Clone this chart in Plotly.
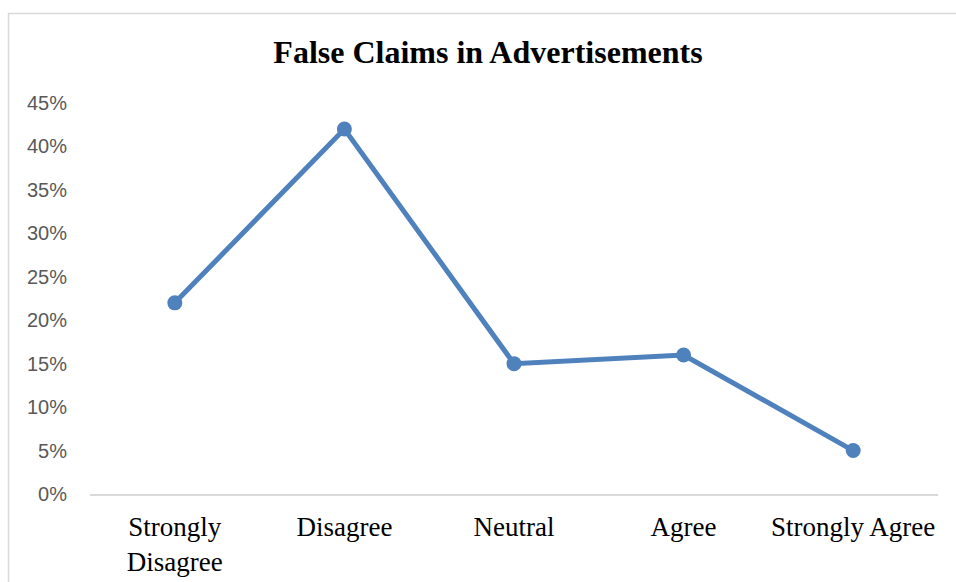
import plotly.graph_objects as go

categories = ["Strongly Disagree", "Disagree", "Neutral", "Agree", "Strongly Agree"]
tick_labels = ["Strongly<br>Disagree", "Disagree", "Neutral", "Agree", "Strongly Agree"]
values = [0.22, 0.42, 0.15, 0.16, 0.05]
y_ticks = [0, 0.05, 0.10, 0.15, 0.20, 0.25, 0.30, 0.35, 0.40, 0.45]
y_tick_labels = ["0%", "5%", "10%", "15%", "20%", "25%", "30%", "35%", "40%", "45%"]

W, H = 956, 582
ml, mr, mt, mb = 90, 18, 103, 88
pw, ph = W - ml - mr, H - mt - mb

fig = go.Figure()
fig.add_trace(go.Scatter(
    x=categories, y=values, mode="lines+markers",
    line=dict(color="#4F81BD", width=5),
    marker=dict(color="#4F81BD", size=15),
    showlegend=False, cliponaxis=False,
))

fig.update_layout(
    width=W, height=H,
    margin=dict(l=ml, r=mr, t=mt, b=mb, autoexpand=False),
    paper_bgcolor="white", plot_bgcolor="white",
    title=dict(text="<b>False Claims in Advertisements</b>",
               font=dict(family="Liberation Serif", size=32, color="black"),
               x=(488 - ml) / pw, xref="paper", xanchor="center",
               y=1 - 52 / H, yref="container", yanchor="middle"),
    xaxis=dict(type="category", categoryorder="array", categoryarray=categories,
               tickvals=categories, ticktext=tick_labels,
               range=[-0.5, 4.5], showgrid=False, zeroline=False,
               showline=True, linecolor="#d9d9d9", linewidth=1.5,
               ticks="", ticklabelstandoff=8, automargin=False,
               tickfont=dict(family="Liberation Serif", size=27, color="black")),
    yaxis=dict(range=[0, 0.45], tickvals=y_ticks, ticktext=y_tick_labels,
               showgrid=False, zeroline=False, showline=False, ticks="",
               ticklabelstandoff=22, automargin=False,
               tickfont=dict(family="Liberation Sans", size=20, color="#595959")),
    shapes=[dict(type="rect", xref="paper", yref="paper",
                 x0=(8.5 - ml) / pw, x1=(W + 5 - ml) / pw,
                 y0=-(mb + 10) / ph, y1=1 + (mt - 13.5) / ph,
                 line=dict(color="#d9d9d9", width=1.5), fillcolor="rgba(0,0,0,0)",
                 layer="below")],
)

fig.write_html("out.html")
